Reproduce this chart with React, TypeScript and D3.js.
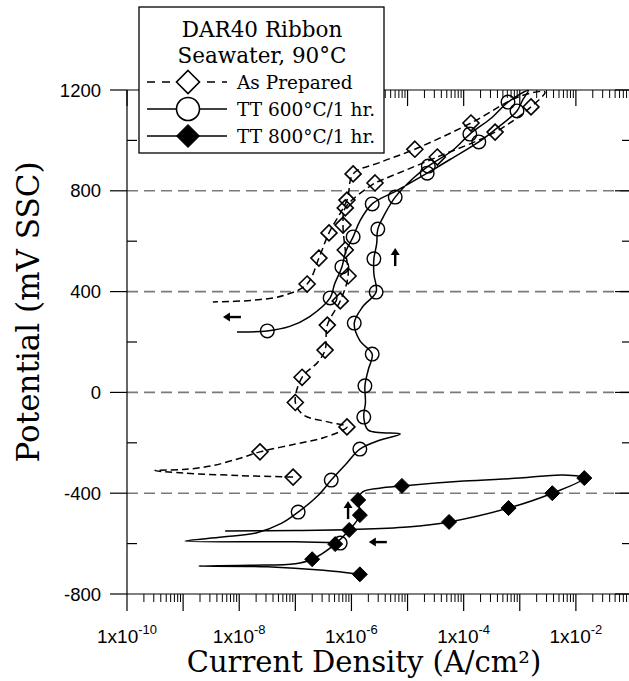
import React from "react";
import * as d3 from "d3";

// ---- Data (log10 current density [A/cm²], potential [mV SSC], marker flag) ----
const asPrepared: [number, number, number][] = [
  [-7.04, -336, 1], [-8.0, -330, 0], [-9.0, -320, 0], [-9.5, -310, 0], [-9.0, -306, 0],
  [-8.5, -292, 0], [-8.0, -262, 0], [-7.63, -236, 1], [-7.0, -205, 0], [-6.5, -180, 0],
  [-6.08, -137, 1], [-6.4, -118, 0], [-6.85, -90, 0], [-7.0, -40, 1], [-6.88, 60, 1],
  [-6.6, 120, 0], [-6.47, 168, 1], [-6.43, 267, 1], [-6.2, 363, 1], [-6.06, 462, 1],
  [-6.11, 565, 1], [-6.15, 664, 1], [-6.11, 732, 1], [-5.58, 831, 1], [-5.49, 840, 0],
  [-4.47, 934, 1], [-3.44, 1033, 1], [-2.80, 1133, 1], [-2.55, 1192, 0],
  [-3.0, 1175, 0], [-3.87, 1069, 1], [-4.87, 965, 1], [-5.5, 912, 0], [-5.97, 867, 1],
  [-6.08, 763, 1], [-6.4, 633, 1], [-6.58, 533, 1], [-6.79, 430, 1], [-7.2, 385, 0],
  [-7.8, 365, 0], [-8.47, 359, 0],
];

const tt600: [number, number, number][] = [
  [-6.2, -598, 1], [-7.0, -593, 0], [-8.97, -590, 0], [-8.3, -574, 0], [-7.7, -558, 0],
  [-7.25, -520, 0], [-6.95, -475, 1], [-6.6, -410, 0], [-6.36, -348, 1], [-6.1, -285, 0],
  [-5.85, -225, 1], [-5.5, -190, 0], [-5.13, -165, 0], [-5.7, -150, 0], [-5.78, -98, 1],
  [-5.75, -40, 0], [-5.76, 26, 1], [-5.7, 90, 0], [-5.63, 152, 1], [-5.85, 205, 0],
  [-5.95, 275, 1], [-5.8, 340, 0], [-5.56, 398, 1], [-5.6, 470, 0], [-5.6, 530, 1],
  [-5.55, 590, 0], [-5.53, 648, 1], [-5.4, 710, 0], [-5.22, 775, 1], [-4.9, 850, 0],
  [-4.63, 898, 1], [-4.2, 960, 0], [-3.89, 1025, 1], [-3.5, 1090, 0], [-3.21, 1152, 1],
  [-2.85, 1198, 0], [-2.95, 1160, 0], [-3.05, 1117, 1], [-3.4, 1050, 0], [-3.73, 994, 1],
  [-4.2, 930, 0], [-4.65, 870, 1], [-5.2, 800, 0], [-5.63, 748, 1], [-5.85, 680, 0],
  [-5.97, 617, 1], [-6.1, 560, 0], [-6.17, 498, 1], [-6.3, 430, 0], [-6.38, 375, 1],
  [-6.75, 300, 0], [-7.1, 262, 0], [-7.5, 244, 1], [-8.04, 240, 0],
];

const tt800: [number, number, number][] = [
  [-5.85, -722, 1], [-6.5, -706, 0], [-7.5, -692, 0], [-8.72, -689, 0], [-7.8, -686, 0],
  [-7.0, -680, 0], [-6.7, -662, 1], [-6.29, -602, 1], [-6.04, -546, 1], [-5.85, -487, 1],
  [-5.88, -427, 1], [-5.8, -395, 0], [-5.5, -380, 0], [-5.1, -371, 1], [-4.0, -352, 0],
  [-3.0, -340, 0], [-2.23, -328, 0], [-1.85, -340, 1], [-2.42, -400, 1], [-3.2, -459, 1],
  [-4.26, -514, 1], [-5.0, -534, 0], [-6.0, -544, 0], [-7.0, -548, 0], [-8.25, -550, 0],
];

const arrows: { lg: number; e: number; dir: "left" | "up" }[] = [
  { lg: -8.13, e: 299, dir: "left" },
  { lg: -5.22, e: 537, dir: "up" },
  { lg: -6.06, e: -467, dir: "up" },
  { lg: -5.53, e: -594, dir: "left" },
];

const yMajor = [-800, -400, 0, 400, 800, 1200];
const yMinor = [-600, -200, 200, 600, 1000];
const yGrid = [-400, 0, 400, 800];
const xLabelExps = [-10, -8, -6, -4, -2];
const legendTitle = ["DAR40 Ribbon", "Seawater, 90°C"];
const legendItems = ["As Prepared", "TT 600°C/1 hr.", "TT 800°C/1 hr."];

const W = 629;
const H = 681;

export default function App() {
  const x = d3.scaleLog().domain([1e-10, 1e-1]).range([127, 632]);
  const y = d3.scaleLinear().domain([-800, 1200]).range([594, 90]);
  const X = (lg: number) => x(Math.pow(10, lg));

  const line = d3
    .line<[number, number, number]>()
    .x((d) => X(d[0]))
    .y((d) => y(d[1]))
    .curve(d3.curveCatmullRom.alpha(0.5));

  const xMajor: number[] = d3.range(-10, 0).map((e) => Math.pow(10, e));
  const xMinor: number[] = [];
  for (let e = -10; e < -1; e++) for (let m = 2; m <= 9; m++) xMinor.push(m * Math.pow(10, e));

  const [x0, x1] = x.range();
  const [yb, yt] = y.range();
  const serif = "'DejaVu Serif', serif";
  const sans = "'Liberation Sans', Arial, sans-serif";

  const diamond = (cx: number, cy: number, r: number) =>
    `M${cx},${cy - r}L${cx + r},${cy}L${cx},${cy + r}L${cx - r},${cy}Z`;

  return (
    <svg width={W} height={H} style={{ position: "absolute", left: 0, top: 0, background: "#fff" }}>
      <defs>
        <clipPath id="plot">
          <rect x={x0} y={yt - 2} width={x1 - x0} height={yb - yt + 2} />
        </clipPath>
      </defs>
      {/* grid */}
      {yGrid.map((v) => (
        <line key={"g" + v} x1={x0} x2={x1} y1={y(v)} y2={y(v)} stroke="#7a7a7a" strokeWidth={1.6} strokeDasharray="11,6" />
      ))}
      {/* axes lines */}
      <line x1={x0} x2={x1} y1={yb} y2={yb} stroke="#000" strokeWidth={1.2} />
      <line x1={x0} x2={x1} y1={yt} y2={yt} stroke="#000" strokeWidth={1.2} />
      <line x1={x0} x2={x0} y1={yt} y2={yb} stroke="#000" strokeWidth={1.2} />
      <line x1={x1} x2={x1} y1={yt} y2={yb} stroke="#000" strokeWidth={1.2} />
      {/* x ticks */}
      {xMajor.map((v, i) => (
        <g key={"xm" + i}>
          <line x1={x(v)} x2={x(v)} y1={yb} y2={yb + 17} stroke="#000" strokeWidth={1.2} />
          <line x1={x(v)} x2={x(v)} y1={yt} y2={yt + 16} stroke="#000" strokeWidth={1.2} />
        </g>
      ))}
      {xMinor.map((v, i) => (
        <g key={"xn" + i}>
          <line x1={x(v)} x2={x(v)} y1={yb} y2={yb + 8} stroke="#000" strokeWidth={1} />
          <line x1={x(v)} x2={x(v)} y1={yt} y2={yt + 8} stroke="#000" strokeWidth={1} />
        </g>
      ))}
      {/* y ticks */}
      {yMajor.map((v) => (
        <g key={"ym" + v}>
          <line x1={x0 - 17} x2={x0} y1={y(v)} y2={y(v)} stroke="#000" strokeWidth={1.2} />
          <line x1={x1 - 17} x2={x1} y1={y(v)} y2={y(v)} stroke="#000" strokeWidth={1.2} />
          <text x={x0 - 26} y={y(v) + 6.5} textAnchor="end" fontFamily={sans} fontSize={18.5}>
            {v}
          </text>
        </g>
      ))}
      {yMinor.map((v) => (
        <g key={"yn" + v}>
          <line x1={x0} x2={x0 + 10} y1={y(v)} y2={y(v)} stroke="#000" strokeWidth={1.2} />
          <line x1={x1 - 10} x2={x1} y1={y(v)} y2={y(v)} stroke="#000" strokeWidth={1.2} />
        </g>
      ))}
      {/* x labels */}
      {xLabelExps.map((e) => (
        <text key={"xl" + e} x={x(Math.pow(10, e))} y={643} textAnchor="middle" fontFamily={sans} fontSize={19}>
          1x10
          <tspan dy={-9} fontSize={13}>
            {e}
          </tspan>
        </text>
      ))}
      {/* axis titles */}
      <text x={364} y={672} textAnchor="middle" fontFamily={serif} fontSize={29}>
        Current Density (A/cm²)
      </text>
      <text transform={`translate(39,312) rotate(-90)`} textAnchor="middle" fontFamily={serif} fontSize={31}>
        Potential (mV SSC)
      </text>

      {/* series */}
      <g clipPath="url(#plot)" fill="none" stroke="#000">
        <path d={line(asPrepared) || ""} strokeWidth={1.5} strokeDasharray="7,4" />
        <path d={line(tt600) || ""} strokeWidth={1.5} />
        <path d={line(tt800) || ""} strokeWidth={1.5} />
        {asPrepared.filter((d) => d[2]).map((d, i) => (
          <path key={"ap" + i} d={diamond(X(d[0]), y(d[1]), 8)} strokeWidth={1.6} />
        ))}
        {tt600.filter((d) => d[2]).map((d, i) => (
          <circle key={"c6" + i} cx={X(d[0])} cy={y(d[1])} r={6.8} strokeWidth={1.4} />
        ))}
        {tt800.filter((d) => d[2]).map((d, i) => (
          <path key={"c8" + i} d={diamond(X(d[0]), y(d[1]), 7.5)} fill="#000" strokeWidth={1} />
        ))}
      </g>

      {/* arrows */}
      {arrows.map((a, i) => {
        const cx = X(a.lg);
        const cy = y(a.e);
        if (a.dir === "left") {
          return (
            <g key={"ar" + i}>
              <line x1={cx - 4} x2={cx + 9} y1={cy} y2={cy} stroke="#000" strokeWidth={2.4} />
              <path d={`M${cx - 9},${cy}L${cx - 2},${cy - 4.5}L${cx - 2},${cy + 4.5}Z`} fill="#000" />
            </g>
          );
        }
        return (
          <g key={"ar" + i}>
            <line x1={cx} x2={cx} y1={cy - 4} y2={cy + 9} stroke="#000" strokeWidth={2.4} />
            <path d={`M${cx},${cy - 9}L${cx - 4.5},${cy - 2}L${cx + 4.5},${cy - 2}Z`} fill="#000" />
          </g>
        );
      })}

      {/* legend */}
      <rect x={139} y={7} width={245} height={146} fill="#fff" stroke="#000" strokeWidth={1.3} />
      {legendTitle.map((t, i) => (
        <text key={"lt" + i} x={262} y={37 + i * 26} textAnchor="middle" fontFamily={serif} fontSize={21.5}>
          {t}
        </text>
      ))}
      {legendItems.map((t, i) => {
        const ly = 82 + i * 27;
        return (
          <g key={"li" + i}>
            <line x1={147} x2={227} y1={ly} y2={ly} stroke="#000" strokeWidth={1.5} strokeDasharray={i === 0 ? "8,7" : undefined} />
            {i === 0 && <path d={diamond(188, ly, 11.5)} fill="#fff" stroke="#000" strokeWidth={1.6} />}
            {i === 1 && <circle cx={188} cy={ly} r={11.5} fill="#fff" stroke="#000" strokeWidth={1.6} />}
            {i === 2 && <path d={diamond(188, ly, 11.5)} fill="#000" stroke="#000" strokeWidth={1} />}
            <text x={237} y={ly + 7} fontFamily={serif} fontSize={18.5}>
              {t}
            </text>
          </g>
        );
      })}
    </svg>
  );
}
